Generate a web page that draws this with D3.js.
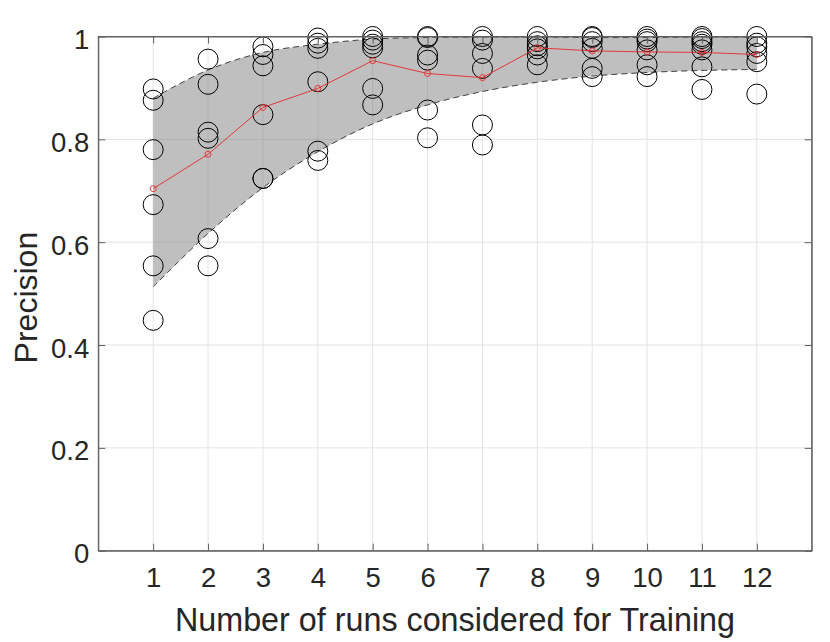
<!DOCTYPE html>
<html lang="en">

<head>
	<meta charset="utf-8">
	<title>Precision vs number of training runs</title>
	<script type="text/javascript" src="https://cdn.jsdelivr.net/npm/d3@7"></script>
	<style type="text/css">
		body { margin: 0; background: #fff; }
		text { font-family: "Liberation Sans", Arial, Helvetica, sans-serif; fill: #262626; }
	</style>
</head>

<body>
	<script type="text/javascript">
		//Width and height
		var w = 830;
		var h = 642;

		// data
		var runs = [1, 2, 3, 4, 5, 6, 7, 8, 9, 10, 11, 12];

		var precisionRuns = [
			[0.898, 0.876, 0.780, 0.673, 0.554, 0.448],
			[0.956, 0.907, 0.814, 0.802, 0.607, 0.554],
			[0.980, 0.965, 0.943, 0.848, 0.724, 0.724],
			[0.997, 0.987, 0.977, 0.912, 0.777, 0.759],
			[1.000, 0.993, 0.985, 0.978, 0.899, 0.867],
			[1.000, 0.998, 0.964, 0.954, 0.857, 0.803],
			[1.000, 0.993, 0.967, 0.938, 0.828, 0.789],
			[1.000, 0.990, 0.982, 0.976, 0.964, 0.945],
			[1.000, 0.998, 0.990, 0.977, 0.938, 0.922],
			[1.000, 0.995, 0.990, 0.974, 0.945, 0.922],
			[1.000, 0.996, 0.990, 0.985, 0.974, 0.941, 0.897],
			[1.000, 0.987, 0.980, 0.967, 0.951, 0.888]
		];

		var meanPrecision = [0.704, 0.771, 0.862, 0.899, 0.953, 0.928, 0.920, 0.978, 0.972, 0.970, 0.969, 0.965];

		var bandUpper = [0.880, 0.935, 0.969, 0.985, 0.995, 0.998, 0.999, 0.999, 0.998, 0.998, 0.999, 0.999];
		var bandLower = [0.513, 0.617, 0.706, 0.776, 0.830, 0.867, 0.893, 0.911, 0.923, 0.930, 0.934, 0.936];

		var xTicks = [1, 2, 3, 4, 5, 6, 7, 8, 9, 10, 11, 12];
		var yTicks = [0, 0.2, 0.4, 0.6, 0.8, 1];

		var xLabel = "Number of runs considered for Training";
		var yLabel = "Precision";

		// plot box
		var boxL = 98.3, boxR = 811.7, boxT = 36.5, boxB = 550.7;

		// create scales
		var xScale = d3.scaleLinear()
			.domain([0, 13])
			.range([boxL, boxR]);

		var yScale = d3.scaleLinear()
			.domain([0, 1])
			.range([boxB, boxT]);

		//Create SVG element
		var svg = d3.select("body")
			.append("svg")
			.attr("width", w)
			.attr("height", h);

		// grid
		svg.append("g")
			.selectAll("line")
			.data(xTicks)
			.enter()
			.append("line")
			.attr("x1", function (d) { return xScale(d); })
			.attr("x2", function (d) { return xScale(d); })
			.attr("y1", boxT)
			.attr("y2", boxB)
			.attr("stroke", "#e3e3e3")
			.attr("stroke-width", 1);

		svg.append("g")
			.selectAll("line")
			.data(yTicks)
			.enter()
			.append("line")
			.attr("x1", boxL)
			.attr("x2", boxR)
			.attr("y1", function (d) { return yScale(d); })
			.attr("y2", function (d) { return yScale(d); })
			.attr("stroke", "#e3e3e3")
			.attr("stroke-width", 1);

		// shaded band
		var band = runs.map(function (r, i) {
			return { x: r, lo: bandLower[i], hi: bandUpper[i] };
		});

		var bandCurve = d3.curveCatmullRom.alpha(0.5);

		var area = d3.area()
			.x(function (d) { return xScale(d.x); })
			.y0(function (d) { return yScale(d.lo); })
			.y1(function (d) { return yScale(d.hi); })
			.curve(bandCurve);

		svg.append("path")
			.datum(band)
			.attr("d", area)
			.attr("fill", "#7f7f7f")
			.attr("fill-opacity", 0.5);

		var upperLine = d3.line()
			.x(function (d) { return xScale(d.x); })
			.y(function (d) { return yScale(d.hi); })
			.curve(bandCurve);

		var lowerLine = d3.line()
			.x(function (d) { return xScale(d.x); })
			.y(function (d) { return yScale(d.lo); })
			.curve(bandCurve);

		[upperLine, lowerLine].forEach(function (fn) {
			svg.append("path")
				.datum(band)
				.attr("d", fn)
				.attr("fill", "none")
				.attr("stroke", "#404040")
				.attr("stroke-width", 1)
				.attr("stroke-dasharray", "6,4");
		});

		// individual runs
		var points = [];
		runs.forEach(function (r, i) {
			precisionRuns[i].forEach(function (v) {
				points.push({ x: r, y: v });
			});
		});

		svg.append("g")
			.selectAll("circle")
			.data(points)
			.enter()
			.append("circle")
			.attr("cx", function (d) { return xScale(d.x); })
			.attr("cy", function (d) { return yScale(d.y); })
			.attr("r", 10)
			.attr("fill", "none")
			.attr("stroke", "#000")
			.attr("stroke-width", 1);

		// mean line
		var meanLine = d3.line()
			.x(function (d, i) { return xScale(runs[i]); })
			.y(function (d) { return yScale(d); });

		svg.append("path")
			.datum(meanPrecision)
			.attr("d", meanLine)
			.attr("fill", "none")
			.attr("stroke", "#e8282b")
			.attr("stroke-width", 0.9);

		svg.append("g")
			.selectAll("circle")
			.data(meanPrecision)
			.enter()
			.append("circle")
			.attr("cx", function (d, i) { return xScale(runs[i]); })
			.attr("cy", function (d) { return yScale(d); })
			.attr("r", 3)
			.attr("fill", "none")
			.attr("stroke", "#e8282b")
			.attr("stroke-width", 0.9);

		// axes
		var xAxis = d3.axisBottom(xScale)
			.tickValues(xTicks)
			.tickSizeInner(-7)
			.tickSizeOuter(0)
			.tickPadding(17)
			.tickFormat(d3.format("d"));

		var yAxis = d3.axisLeft(yScale)
			.tickValues(yTicks)
			.tickSizeInner(-7)
			.tickSizeOuter(0)
			.tickPadding(9)
			.tickFormat(d3.format("~g"));

		var gx = svg.append("g")
			.attr("transform", "translate(0," + boxB + ")")
			.call(xAxis);

		var gy = svg.append("g")
			.attr("transform", "translate(" + boxL + ",0)")
			.call(yAxis);

		// mirrored ticks on top and right
		svg.append("g")
			.attr("transform", "translate(0," + boxT + ")")
			.call(d3.axisTop(xScale).tickValues(xTicks).tickSizeInner(-7).tickSizeOuter(0).tickFormat(""));

		svg.append("g")
			.attr("transform", "translate(" + boxR + ",0)")
			.call(d3.axisRight(yScale).tickValues(yTicks).tickSizeInner(-7).tickSizeOuter(0).tickFormat(""));

		svg.selectAll(".domain, .tick line")
			.attr("stroke", "#606060");

		gx.selectAll("text")
			.attr("font-size", "27.5px")
			.attr("fill", "#262626");

		gy.selectAll("text")
			.attr("font-size", "27.5px")
			.attr("dy", "12px")
			.attr("fill", "#262626");

		// box
		svg.append("rect")
			.attr("x", boxL)
			.attr("y", boxT)
			.attr("width", boxR - boxL)
			.attr("height", boxB - boxT)
			.attr("fill", "none")
			.attr("stroke", "#606060")
			.attr("stroke-width", 1);

		// axis labels
		svg.append("text")
			.text(xLabel)
			.attr("x", (boxL + boxR) / 2)
			.attr("y", 630.5)
			.attr("text-anchor", "middle")
			.attr("font-size", "32.3px");

		svg.append("text")
			.text(yLabel)
			.attr("transform", "translate(37," + ((boxT + boxB) / 2 + 4) + ") rotate(-90)")
			.attr("text-anchor", "middle")
			.attr("font-size", "32px");
	</script>
</body>

</html>
